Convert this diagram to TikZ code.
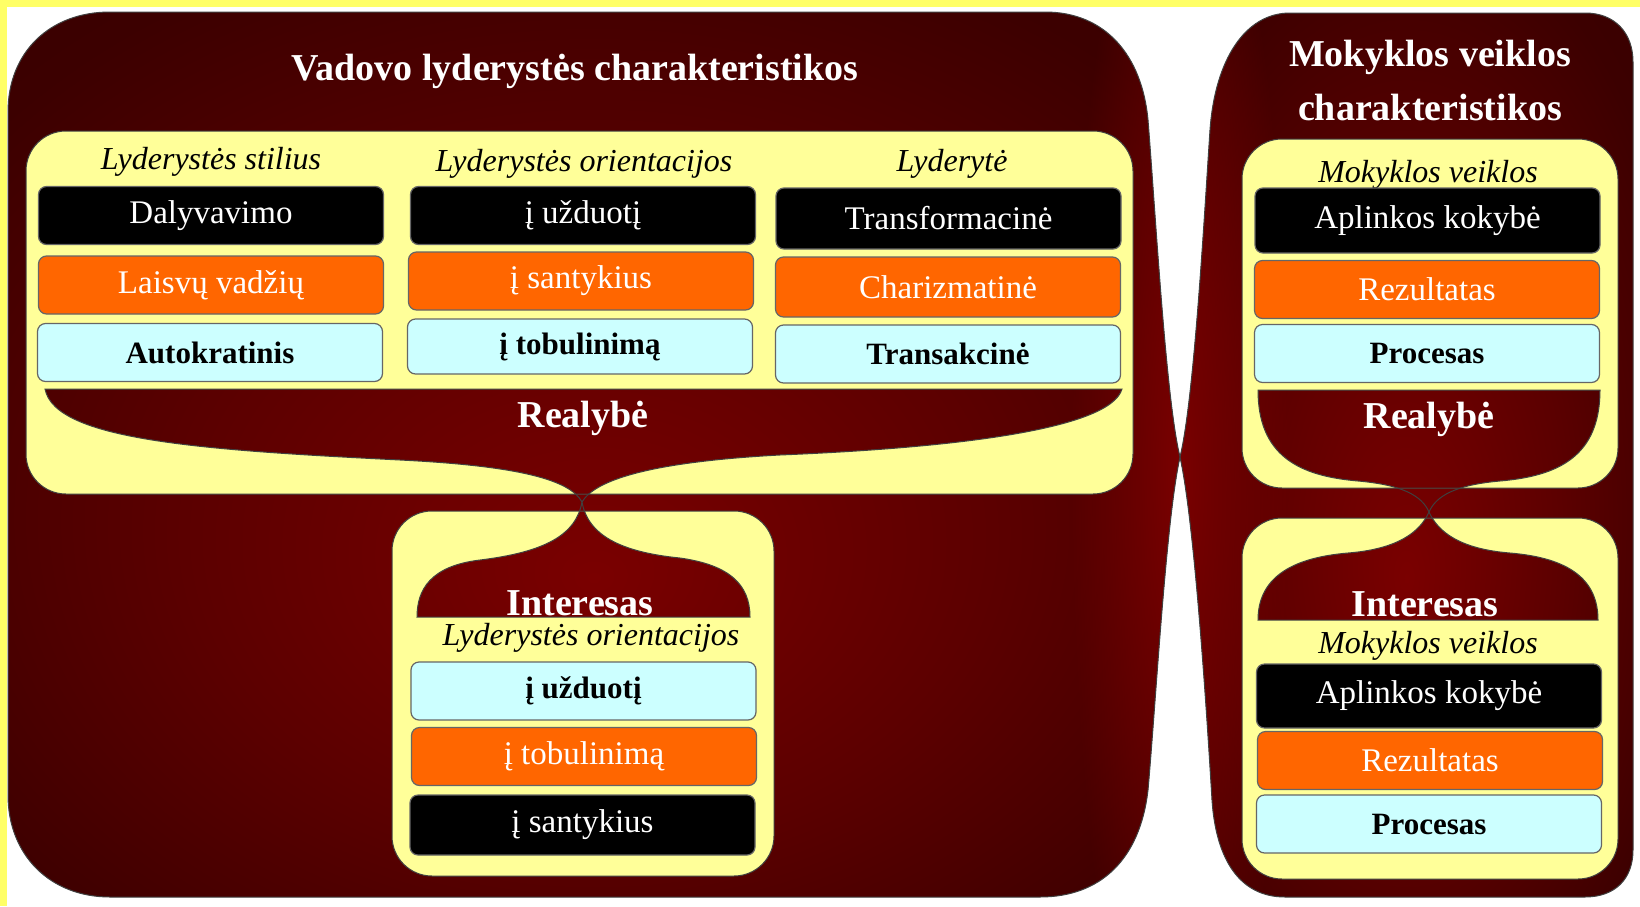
\documentclass[tikz,border=0pt]{standalone}
\usepackage{fontspec}
\setmainfont{Liberation Serif}
\usepackage{tikz}
\usetikzlibrary{fadings}

\definecolor{bordo}{HTML}{3C0000}
\definecolor{bordovid}{HTML}{5C0000}
\definecolor{bordosv}{HTML}{7A0000}
\definecolor{bordotams}{HTML}{320000}
\definecolor{gelt}{HTML}{FFFF99}
\definecolor{remas}{HTML}{FFFF66}
\definecolor{oranz}{HTML}{FF6600}
\definecolor{zydra}{HTML}{CCFFFF}

\pgfdeclareradialshading{fonas}{\pgfpoint{0bp}{-7bp}}{color(0bp)=(bordosv); color(17bp)=(bordovid); color(33bp)=(bordo); color(50bp)=(bordotams)}
\tikzfading[name=gaisa, inner color=transparent!0, outer color=transparent!100]

% outer forms (pixel coordinates, y down)
\def\kaire{(8,112) -- (8,795) .. controls (8,855) and (50,897) .. (110,897) -- (1040,897) .. controls (1100,897) and (1140,860) .. (1148,790) .. controls (1156,700) and (1166,520) .. (1180,457) .. controls (1166,400) and (1156,220) .. (1148,120) .. controls (1142,55) and (1105,12) .. (1045,12) -- (110,12) .. controls (50,12) and (8,52) .. (8,112) -- cycle}
\def\desine{(1290,13) -- (1585,13) .. controls (1615,13) and (1633,33) .. (1633,62) -- (1633,850) .. controls (1633,879) and (1615,897) .. (1585,897) -- (1285,897) .. controls (1240,897) and (1216,860) .. (1212,800) .. controls (1206,700) and (1194,520) .. (1180,457) .. controls (1194,400) and (1204,220) .. (1210,130) .. controls (1215,60) and (1245,13) .. (1290,13) -- cycle}
% holes in the yellow panels
\def\duobeL{(45,389) -- (1122,389) .. controls (1110,430) and (950,448) .. (780,455) .. controls (650,462) and (595,480) .. (582,502) .. controls (570,480) and (520,466) .. (400,460) .. controls (200,450) and (55,440) .. (45,389) -- cycle}
\def\kupolasL{(417,617) -- (750,617) .. controls (750,585) and (730,565) .. (680,558) .. controls (620,552) and (588,535) .. (582,502) .. controls (576,535) and (545,552) .. (480,560) .. controls (430,566) and (417,590) .. (417,617) -- cycle}
\def\duobeR{(1258,390) -- (1600,390) .. controls (1600,455) and (1560,476) .. (1500,481) .. controls (1455,485) and (1436,496) .. (1429,512) .. controls (1422,496) and (1403,485) .. (1358,481) .. controls (1298,476) and (1258,455) .. (1258,390) -- cycle}
\def\kupolasR{(1258,620) -- (1598,620) .. controls (1598,580) and (1570,558) .. (1510,553) .. controls (1460,549) and (1438,532) .. (1429,512) .. controls (1420,532) and (1398,549) .. (1348,553) .. controls (1288,558) and (1258,580) .. (1258,620) -- cycle}

\begin{document}
\begin{tikzpicture}[x=0.5pt, y=-0.5pt,
    box/.style={draw=black!60, line width=0.6pt, rounded corners=4pt, inner sep=0pt, minimum width=172.5pt, minimum height=29pt},
    juoda/.style={box, fill=black, text=white, font=\fontsize{16.5}{18}\selectfont},
    oranzine/.style={box, fill=oranz, text=white, font=\fontsize{16.5}{18}\selectfont},
    melyna/.style={box, fill=zydra, text=black, font=\bfseries\fontsize{15.5}{17}\selectfont},
    antraste/.style={text=white, font=\bfseries\fontsize{19}{22}\selectfont},
    pogrupis/.style={font=\itshape\fontsize{16}{18}\selectfont},
    krastas/.style={draw=black!75, line width=0.5pt}]

  \useasboundingbox (0,0) rectangle (1640,906);
  \fill[white] (0,0) rectangle (1640,906);
  \fill[remas] (0,0) rectangle (1640,7);
  \fill[remas] (0,0) rectangle (7,906);

  % dark forms
  \shade[shading=fonas] \kaire;
  \shade[shading=fonas] \desine;
  \begin{scope}
    \clip \kaire \desine;
    \fill[bordosv, path fading=gaisa] (1180,470) ellipse [x radius=55pt, y radius=330pt];
  \end{scope}
  \draw[krastas] \kaire;
  \draw[krastas] \desine;

  % yellow panels
  \begin{scope}
    \clip[rounded corners=20pt] (26,131) rectangle (1133,494);
    \fill[gelt, even odd rule] [rounded corners=20pt] (26,131) rectangle (1133,494) [sharp corners] \duobeL;
  \end{scope}
  \begin{scope}
    \clip[rounded corners=20pt] (392,511) rectangle (774,876);
    \fill[gelt, even odd rule] [rounded corners=20pt] (392,511) rectangle (774,876) [sharp corners] \kupolasL;
  \end{scope}
  \begin{scope}
    \clip[rounded corners=20pt] (1242,139) rectangle (1618,488);
    \fill[gelt, even odd rule] [rounded corners=20pt] (1242,139) rectangle (1618,488) [sharp corners] \duobeR;
  \end{scope}
  \begin{scope}
    \clip[rounded corners=20pt] (1242,518) rectangle (1618,879);
    \fill[gelt, even odd rule] [rounded corners=20pt] (1242,518) rectangle (1618,879) [sharp corners] \kupolasR;
  \end{scope}
  \draw[krastas, rounded corners=20pt] (26,131) rectangle (1133,494);
  \draw[krastas, rounded corners=20pt] (392,511) rectangle (774,876);
  \draw[krastas, rounded corners=20pt] (1242,139) rectangle (1618,488);
  \draw[krastas, rounded corners=20pt] (1242,518) rectangle (1618,879);
  \draw[krastas] \duobeL;
  \draw[krastas] \kupolasL;
  \draw[krastas] \duobeR;
  \draw[krastas] \kupolasR;

  % titles
  \node (vadtit) [antraste] at (575,71) {Vadovo lyderystės charakteristikos};
  \node (moktit) [antraste] at (1430,57) {Mokyklos veiklos};
  \node (moktitb) [antraste] at (1430,107) {charakteristikos};

  % left upper panel
  \node (stil) [pogrupis] at (211,162) {Lyderystės stilius};
  \node (orie) [pogrupis] at (584,164) {Lyderystės orientacijos};
  \node (lydt) [pogrupis] at (952,164) {Lyderytė};
  \node (dal) [juoda] at (211,215.5) {Dalyvavimo};
  \node (lais) [oranzine] at (211,285) {Laisvų vadžių};
  \node (auto) [melyna] at (210,352.5) {Autokratinis};
  \node (uzd) [juoda] at (583,215.5) {į užduotį};
  \node (sant) [oranzine] at (581,281) {į santykius};
  \node (tob) [melyna, minimum height=27.5pt] at (580,346.5) {į tobulinimą};
  \node (trf) [juoda, minimum height=30.5pt] at (948.5,218.5) {Transformacinė};
  \node (char) [oranzine, minimum height=30pt] at (948,287) {Charizmatinė};
  \node (trs) [melyna] at (948,354) {Transakcinė};
  \node (realL) [antraste] at (583,418) {Realybė};

  % left lower panel
  \node (intL) [antraste] at (580,603) {Interesas};
  \node (orieb) [pogrupis] at (591,638) {Lyderystės orientacijos};
  \node (uzdb) [melyna] at (583.5,691) {į užduotį};
  \node (tobb) [oranzine] at (584,756.5) {į tobulinimą};
  \node (santb) [juoda, minimum height=30pt] at (582.5,825) {į santykius};

  % right panels
  \node (veik) [pogrupis] at (1428,175) {Mokyklos veiklos};
  \node (apl) [juoda, minimum height=32.5pt] at (1427.5,220.5) {Aplinkos kokybė};
  \node (rez) [oranzine] at (1427,289.5) {Rezultatas};
  \node (proc) [melyna] at (1427,353.5) {Procesas};
  \node (realR) [antraste] at (1429,419) {Realybė};
  \node (intR) [antraste] at (1425,604) {Interesas};
  \node (veikb) [pogrupis] at (1428,646) {Mokyklos veiklos};
  \node (aplb) [juoda, minimum height=32pt] at (1429,696) {Aplinkos kokybė};
  \node (rezb) [oranzine] at (1430,760.5) {Rezultatas};
  \node (procb) [melyna] at (1429,824) {Procesas};
\end{tikzpicture}
\end{document}
